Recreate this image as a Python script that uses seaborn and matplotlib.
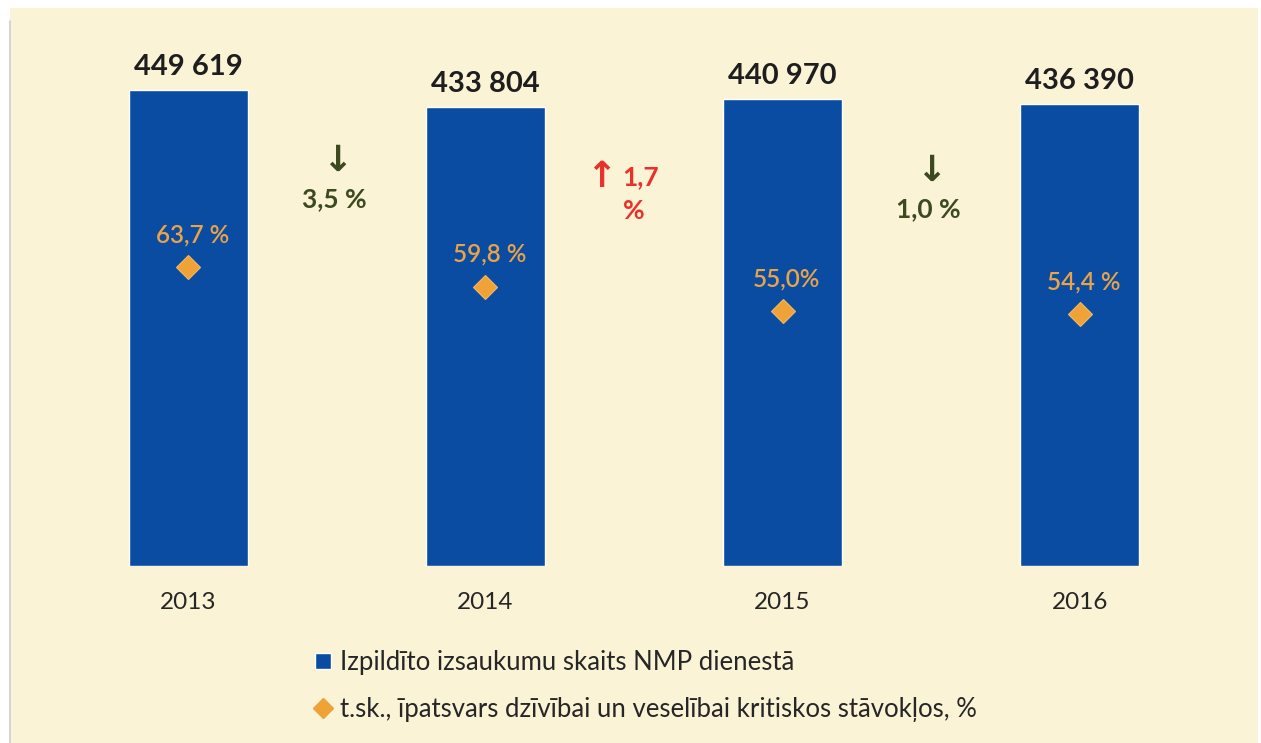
import numpy as np
import pandas as pd
import matplotlib.pyplot as plt
import seaborn as sns
from matplotlib.lines import Line2D
from matplotlib.patches import Rectangle

years = ['2013', '2014', '2015', '2016']
calls = [449619, 433804, 440970, 436390]
critical_pct = [63.7, 59.8, 55.0, 54.4]
pct_labels = ['63,7 %', '59,8 %', '55,0%', '54,4 %']
change_arrows = ['\u2193', '\u2191', '\u2193']
change_labels = ['3,5 %', '1,7\n%', '1,0 %']
change_colors = ['#3d4a1f', '#e8312b', '#3d4a1f']

bar_name = 'Izpild\u012bto izsaukumu skaits NMP dienest\u0101'
dot_name = 't.sk., \u012bpatsvars dz\u012bv\u012bbai un vesel\u012bbai kritiskos st\u0101vok\u013cos, %'

sns.set_style('white')
plt.rcParams['font.family'] = ['Lato', 'DejaVu Sans']

bg = '#fbf3d6'
blue = '#0b4ca3'
orange = '#eea238'

df = pd.DataFrame({'year': years, 'calls': calls, 'pct': critical_pct})

fig = plt.figure(figsize=(12.61, 7.43), dpi=100, facecolor='white')
# scanned page background
fig.patches.append(Rectangle((10 / 1261, 0), 1248 / 1261, 735 / 743, transform=fig.transFigure,
                             facecolor=bg, edgecolor='none', zorder=-10))
fig.lines.append(Line2D([10 / 1261, 10 / 1261], [0, 722 / 743], transform=fig.transFigure,
                        color='#cfcfcf', lw=1.2, zorder=-5))

ax = fig.add_axes([10 / 1261, (743 - 566) / 743, 1248 / 1261, 558 / 743])
ax.patch.set_alpha(0)
sns.barplot(data=df, x='year', y='calls', color=blue, width=0.4, saturation=1, ax=ax)
ax.set_xlim(-0.6, 3.6)
ax.set_ylim(0, 527080)

ax2 = ax.twinx()
ax2.plot(range(len(years)), critical_pct, linestyle='none', marker='D', ms=12,
         color=orange, markeredgecolor='#f5b85a', markeredgewidth=0.8)
ax2.set_ylim(4.82, 114.7)

for a in (ax, ax2):
    a.set_xlabel('')
    a.set_ylabel('')
    a.set_yticks([])
    for s in a.spines.values():
        s.set_visible(False)
ax.tick_params(axis='x', length=0, pad=19, labelsize=17.5, labelcolor='#262626')

for i, v in enumerate(calls):
    ax.annotate(f'{v:,}'.replace(',', ' '), (i, v), xytext=(0, 7), textcoords='offset points',
                ha='center', va='bottom', fontsize=21, fontweight='bold', color='#1e1e1e')

for i, p in enumerate(critical_pct):
    ax2.annotate(pct_labels[i], (i, p), xytext=(3, 15), textcoords='offset points',
                 ha='center', va='bottom', fontsize=17.5, fontweight='semibold', color='#eaa446')


def ypx(p):
    # pixel row of the reference -> bar axis units
    return (566 - p) / 476 * 449619


# change between neighbouring years
arrow_pos = [(0.5, ypx(161)), (1.39, ypx(177)), (2.5, ypx(171))]
label_pos = [(0.49, ypx(199)), (1.523, ypx(194)), (2.49, ypx(209))]
for i in range(3):
    ax.text(*arrow_pos[i], change_arrows[i], ha='center', va='center', fontsize=26,
            fontweight='bold', family='DejaVu Sans', color=change_colors[i])
    ax.text(*label_pos[i], change_labels[i], ha='center', va='center', fontsize=19,
            fontweight='bold', color=change_colors[i], linespacing=1.45, multialignment='left')

handles = [Rectangle((0, 0), 1, 1, facecolor=blue),
           Line2D([], [], linestyle='none', marker='D', ms=10, color=orange)]
fig.legend(handles, [bar_name, dot_name], loc='upper left', bbox_to_anchor=(292 / 1261, 1 - 627 / 743),
           frameon=False, fontsize=18.5, handlelength=0.6, handleheight=0.6, handletextpad=0.35,
           labelspacing=0.85, labelcolor='#262626')

fig.savefig('out.png', dpi=100, facecolor='white')
